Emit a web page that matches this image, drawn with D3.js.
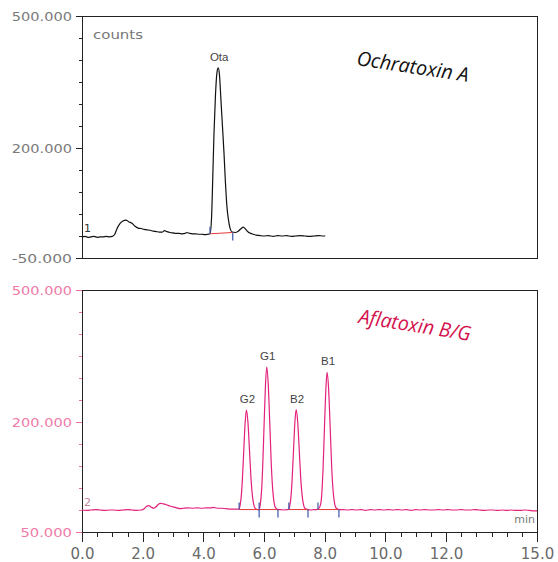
<!DOCTYPE html>
<html>
<head>
<meta charset="utf-8">
<script src="https://cdn.jsdelivr.net/npm/d3@7"></script>
<style>
  body { margin: 0; background: #fff; }
  svg { display: block; }
</style>
</head>
<body>
<script>
// ---- data ----
const timeTicks = [0, 2, 4, 6, 8, 10, 12, 15];
const timeTickLabels = ["0.0", "2.0", "4.0", "6.0", "8.0", "10.0", "12.0", "15.0"];
const countTicks = [500, 200, -50];
const ochraCountLabels = ["500.000", "200.000", "-50.000"];
const aflaCountLabels = ["500.000", "200.000", "50.000"];

// Ochratoxin A trace: [min, counts]
const ochraTrace = [
  [0.00,-2],[0.10,-1],[0.20,-3],[0.30,-2],[0.40,-1],[0.50,-3],[0.60,-2],[0.70,-2],[0.80,-1],[0.90,-2],
  [1.00,-1],[1.08,4],[1.15,16],[1.25,28],[1.35,34],[1.45,36],[1.55,32],[1.65,29],[1.75,22],[1.85,18],
  [1.95,17],[2.05,15],[2.15,14],[2.25,13],[2.35,11],[2.45,10],[2.55,9],[2.65,9],[2.72,12],[2.80,10],
  [2.90,8],[3.00,7],[3.10,6],[3.20,6],[3.30,5],[3.40,6],[3.46,8],[3.55,6],[3.65,5],[3.75,5],
  [3.85,4],[3.95,4],[4.05,3],[4.15,4],[4.22,5],
  [4.27,40],[4.31,130],[4.35,230],[4.40,320],[4.45,372],[4.49,382],[4.53,368],[4.58,310],[4.63,250],
  [4.68,190],[4.73,120],[4.78,65],[4.83,36],[4.88,18],[4.95,9],
  [5.05,8],[5.15,11],[5.25,17],[5.32,20],[5.40,15],[5.48,9],[5.56,6],[5.65,4],[5.75,2],[5.87,1],
  [6.00,0],[6.15,1],[6.30,-1],[6.45,1],[6.60,0],[6.75,1],[6.90,-1],[7.05,0],[7.20,1],[7.35,0],
  [7.50,-1],[7.65,0],[7.80,1],[7.95,0],[8.02,0]
];

// Aflatoxin B/G trace: [min, counts]
const aflaTrace = [
  [0.00,0],[0.15,-1],[0.30,0],[0.45,1],[0.60,0],[0.75,-1],[0.90,0],[1.05,0],[1.20,-1],[1.35,0],
  [1.50,1],[1.65,0],[1.80,-1],[1.95,0],[2.05,3],[2.12,8],[2.19,10],[2.27,7],[2.37,4],[2.45,8],
  [2.52,13],[2.60,15],[2.68,14],[2.78,12],[2.90,9],[3.00,7],[3.12,5],[3.23,3],[3.35,4],[3.50,5],
  [3.65,4],[3.80,5],[3.95,4],[4.10,5],[4.25,5],[4.33,6],[4.45,4],[4.60,4],[4.75,3],[4.90,2],
  [5.05,2],[5.17,2],
  [5.21,10],[5.25,31],[5.29,73],[5.335,138],[5.38,200],[5.42,227],[5.47,200],[5.52,138],[5.57,73],
  [5.62,31],[5.67,10],[5.72,3],[5.78,1],[5.84,1],
  [5.88,14],[5.92,44],[5.96,104],[6.005,198],[6.05,286],[6.09,325],[6.14,286],[6.19,198],[6.24,104],
  [6.29,44],[6.34,14],[6.39,4],[6.46,1],[6.55,1],[6.65,0],[6.74,1],[6.80,1],
  [6.85,10],[6.89,31],[6.93,73],[6.975,139],[7.02,201],[7.06,228],[7.11,201],[7.16,139],[7.21,73],
  [7.26,31],[7.31,10],[7.36,3],[7.45,1],[7.55,0],[7.65,1],[7.74,1],
  [7.80,3],[7.87,14],[7.91,42],[7.95,100],[7.995,191],[8.04,275],[8.08,313],[8.13,275],[8.18,191],
  [8.23,100],[8.28,42],[8.33,14],[8.38,4],[8.47,1],
  [8.60,1],[8.75,0],[8.90,1],[9.05,0],[9.20,1],[9.35,-1],[9.50,1],[9.65,0],[9.80,1],[9.95,0],
  [10.10,1],[10.25,0],[10.40,1],[10.55,0],[10.70,1],[10.85,-1],[11.00,1],[11.15,0],[11.30,1],[11.45,0],
  [11.60,0],[11.75,1],[11.90,0],[12.05,1],[12.20,0],[12.35,0],[12.50,1],[12.65,0],[12.80,0],[12.95,1],
  [13.10,0],[13.25,-1],[13.40,0],[13.55,0],[13.70,-1],[13.85,0],[14.00,-1],[14.15,0],[14.30,-1],[14.45,-1],
  [14.60,0],[14.75,-1],[14.90,-2],[15.00,-2]
];

const ochraPeakNames = ["Ota"];
const ochraPeakTimes = [4.49];
const ochraPeakHeights = [382];
const ochraPeakStarts = [[4.22, 5]];
const ochraPeakEnds = [[4.97, 8]];

const aflaPeakNames = ["G2", "G1", "B2", "B1"];
const aflaPeakTimes = [5.42, 6.09, 7.06, 8.08];
const aflaPeakHeights = [227, 325, 228, 313];
const aflaPeakStarts = [[5.18, 1], [5.84, 1], [6.82, 1], [7.78, 1]];
const aflaPeakEnds = [[5.84, 1], [6.46, 1], [7.45, 1], [8.47, 1]];

// ---- layout ----
const W = 558, H = 562;
const left = 82, right = 537;
const panels = [
  { top: 16, bottom: 258 },
  { top: 290, bottom: 532 }
];

const svg = d3.select("body").append("svg")
  .attr("width", W)
  .attr("height", H);

const x = d3.scaleLinear().domain([0, 15]).range([left, right]);

const minorCounts = d3.range(-50, 501, 50);
const minorTimes = d3.range(0, 15.001, 0.5);

function drawPanel(p, opts) {
  const y = d3.scaleLinear().domain([-50, 500]).range([p.bottom, p.top]);
  const g = svg.append("g");

  // frame
  g.append("rect")
    .attr("x", left)
    .attr("y", p.top)
    .attr("width", right - left)
    .attr("height", p.bottom - p.top)
    .attr("fill", "none")
    .attr("stroke", "#222")
    .attr("stroke-width", 1)
    .attr("shape-rendering", "crispEdges");

  // left axis: minor then major ticks
  const minorAx = g.append("g")
    .attr("transform", `translate(${left},0)`)
    .call(d3.axisLeft(y).tickValues(minorCounts).tickSize(3).tickFormat(""));
  minorAx.select(".domain").remove();
  minorAx.selectAll("line").attr("stroke", opts.tickColor).attr("shape-rendering", "crispEdges");

  const majorAx = g.append("g")
    .attr("transform", `translate(${left},0)`)
    .call(d3.axisLeft(y).tickValues(countTicks).tickSize(6).tickPadding(4)
      .tickFormat((d, i) => opts.countLabels[i]));
  majorAx.select(".domain").remove();
  majorAx.selectAll("line").attr("stroke", opts.tickColor).attr("shape-rendering", "crispEdges");
  majorAx.selectAll("text")
    .attr("fill", opts.labelColor)
    .attr("dy", "0.36em")
    .style("font-family", "DejaVu Sans")
    .style("font-size", "13px")
    .attr("textLength", function() { return this.textContent.length * 8.6; })
    .attr("lengthAdjust", "spacingAndGlyphs");

  // trace
  const line = d3.line()
    .x(d => x(d[0]))
    .y(d => y(d[1]))
    .curve(d3.curveMonotoneX);

  g.append("path")
    .datum(opts.trace)
    .attr("d", line)
    .attr("fill", "none")
    .attr("stroke", opts.traceColor)
    .attr("stroke-width", 1.2);

  // integration baselines
  g.selectAll(".base")
    .data(opts.starts.map((s, i) => [s, opts.ends[i]]))
    .join("line")
    .attr("class", "base")
    .attr("x1", d => x(d[0][0]))
    .attr("y1", d => y(d[0][1]))
    .attr("x2", d => x(d[1][0]))
    .attr("y2", d => y(d[1][1]))
    .attr("stroke", "#e6383a")
    .attr("stroke-width", 1);

  // start / end markers
  g.selectAll(".smark")
    .data(opts.starts)
    .join("line")
    .attr("class", "smark")
    .attr("x1", d => x(d[0])).attr("x2", d => x(d[0]))
    .attr("y1", d => y(d[1])).attr("y2", d => y(d[1]) - 7)
    .attr("stroke", "#3a56a8")
    .attr("stroke-width", 1.2);

  g.selectAll(".emark")
    .data(opts.ends)
    .join("line")
    .attr("class", "emark")
    .attr("x1", d => x(d[0])).attr("x2", d => x(d[0]))
    .attr("y1", d => y(d[1])).attr("y2", d => y(d[1]) + 8)
    .attr("stroke", "#3a56a8")
    .attr("stroke-width", 1.2);

  // peak names
  g.selectAll(".pname")
    .data(opts.names)
    .join("text")
    .attr("class", "pname")
    .attr("x", (d, i) => x(opts.times[i]) + 1)
    .attr("y", (d, i) => y(opts.heights[i]) - 7)
    .attr("text-anchor", "middle")
    .attr("fill", "#444")
    .style("font-family", "Liberation Sans, Arial, sans-serif")
    .style("font-size", "11.5px")
    .text(d => d);

  // channel number
  g.append("text")
    .attr("x", left + 2)
    .attr("y", y(0) - 4)
    .attr("fill", opts.channelColor)
    .style("font-family", "DejaVu Sans")
    .style("font-size", "11px")
    .text(opts.channel);

  // title
  g.append("text")
    .attr("transform", `translate(${opts.titlePos[0]},${opts.titlePos[1]}) rotate(${opts.titleAngle})`)
    .attr("fill", opts.titleColor)
    .attr("textLength", 113)
    .attr("lengthAdjust", "spacingAndGlyphs")
    .style("font-family", "Open Sans")
    .style("font-style", "italic")
    .style("font-size", "20px")
    .text(opts.title);

  return { g, y };
}

const ochraPanel = drawPanel(panels[0], {
  trace: ochraTrace,
  traceColor: "#111",
  tickColor: "#222",
  labelColor: "#7a7a7a",
  countLabels: ochraCountLabels,
  starts: ochraPeakStarts,
  ends: ochraPeakEnds,
  names: ochraPeakNames,
  times: ochraPeakTimes,
  heights: ochraPeakHeights,
  channel: "1",
  channelColor: "#333",
  title: "Ochratoxin A",
  titleColor: "#111",
  titlePos: [356, 65],
  titleAngle: 8.6
});

ochraPanel.g.append("text")
  .attr("x", 93)
  .attr("y", 39)
  .attr("fill", "#777")
  .attr("textLength", 50)
  .attr("lengthAdjust", "spacingAndGlyphs")
  .style("font-family", "DejaVu Sans")
  .style("font-size", "13px")
  .text("counts");

const aflaPanel = drawPanel(panels[1], {
  trace: aflaTrace,
  traceColor: "#e3207c",
  tickColor: "#ee6fa2",
  labelColor: "#f07aa8",
  countLabels: aflaCountLabels,
  starts: aflaPeakStarts,
  ends: aflaPeakEnds,
  names: aflaPeakNames,
  times: aflaPeakTimes,
  heights: aflaPeakHeights,
  channel: "2",
  channelColor: "#b8849e",
  title: "Aflatoxin B/G",
  titleColor: "#d3124e",
  titlePos: [358, 323],
  titleAngle: 9.1
});

// time axis under the lower panel
const minorX = svg.append("g")
  .attr("transform", `translate(0,${panels[1].bottom})`)
  .call(d3.axisBottom(x).tickValues(minorTimes).tickSize(5).tickFormat(""));
minorX.select(".domain").remove();
minorX.selectAll("line").attr("stroke", "#222").attr("shape-rendering", "crispEdges");

const majorX = svg.append("g")
  .attr("transform", `translate(0,${panels[1].bottom})`)
  .call(d3.axisBottom(x).tickValues(timeTicks).tickSize(10).tickPadding(6)
    .tickFormat((d, i) => timeTickLabels[i]));
majorX.select(".domain").remove();
majorX.selectAll("line").attr("stroke", "#222").attr("shape-rendering", "crispEdges");
majorX.selectAll("text")
  .attr("fill", "#6a6a6a")
  .style("font-family", "DejaVu Sans")
  .style("font-size", "15px");

svg.append("text")
  .attr("x", 535)
  .attr("y", 523)
  .attr("text-anchor", "end")
  .attr("fill", "#777")
  .style("font-family", "DejaVu Sans")
  .style("font-size", "11px")
  .text("min");
</script>
</body>
</html>
